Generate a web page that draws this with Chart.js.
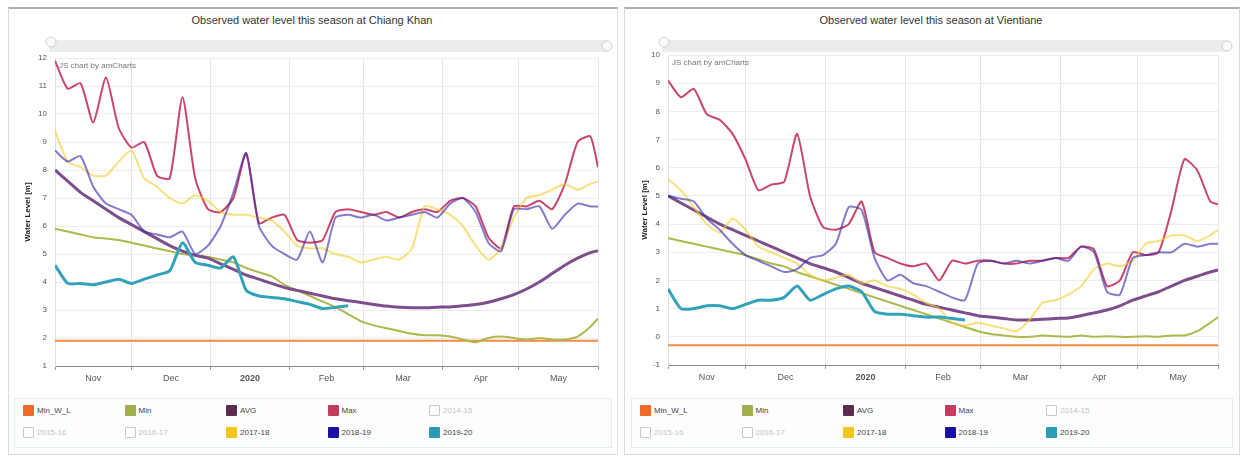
<!DOCTYPE html>
<html>
<head>
<meta charset="utf-8">
<title>Observed water level this season</title>
<script src="https://cdn.jsdelivr.net/npm/chart.js@4.4.1/dist/chart.umd.min.js"></script>
<style>
  body { margin: 0; background: #fff; font-family: "Liberation Sans", Arial, sans-serif; }
  .panel { position: absolute; top: 7px; height: 445px; border: 1px solid #d3dde2; border-top: 2px solid #aab0b5; background: #fff; }
  .title { position: absolute; top: 14px; text-align: center; font-size: 11px; color: #333; }
  canvas { position: absolute; }
  .legend { position: absolute; top: 398px; height: 48px; border: 1px solid #e6ecef; background: #fcfdfd; }
  .item { position: absolute; font-size: 8px; color: #444; line-height: 12px; white-space: nowrap; }
  .item span { display: inline-block; width: 11px; height: 11px; vertical-align: middle; margin-right: 3px; border-radius: 1px; }
  .item.off { color: #c4c4c4; }
  .item.off span { width: 9px; height: 9px; border: 1px solid #c8c8c8; background: #fff; }
</style>
</head>
<body>
<div class="panel" style="left:8px;width:608px"></div>
<div class="panel" style="left:624px;width:614px"></div>
<div class="title" style="left:8px;width:608px">Observed water level this season at Chiang Khan</div>
<div class="title" style="left:624px;width:614px">Observed water level this season at Vientiane</div>
<canvas id="chiangKhanChart" style="left:8px;top:30px" width="609" height="360"></canvas>
<canvas id="vientianeChart" style="left:625px;top:30px" width="612" height="360"></canvas>
<div class="legend" id="chiangKhanLegend" style="left:14px;width:596px"></div>
<div class="legend" id="vientianeLegend" style="left:631px;width:600px"></div>

<script>
// Day of season, counted from 1 Nov 2019
const days = [0, 5, 10, 15, 20, 25, 30, 35, 40, 45, 50, 55, 60, 65, 70, 75, 80, 85, 90, 95, 100,
  105, 110, 115, 120, 125, 130, 135, 140, 145, 150, 155, 160, 165, 170, 175, 180, 185, 190, 195,
  200, 205, 210, 213];
const wlDays = [0, 213];

// Month grid (first of month) and month labels (mid month)
const monthStarts = [0, 30, 61, 92, 121, 152, 182, 213];
const monthMids = [15, 45.5, 76.5, 106.5, 136.5, 167, 197.5];
const monthLabels = ['Nov', 'Dec', '2020', 'Feb', 'Mar', 'Apr', 'May'];

// Chiang Khan, water level [m]
const ckMinWl = [1.9, 1.9];
const ckMin = [5.9, 5.8, 5.7, 5.6, 5.55, 5.5, 5.4, 5.3, 5.2, 5.1, 5.0, 4.95, 4.9, 4.8, 4.7, 4.5,
  4.35, 4.2, 3.9, 3.7, 3.5, 3.3, 3.1, 2.85, 2.6, 2.45, 2.35, 2.25, 2.15, 2.1, 2.1, 2.05, 1.95,
  1.85, 2.0, 2.05, 2.0, 1.95, 2.0, 1.95, 1.95, 2.05, 2.4, 2.7];
const ckAvg = [8.0, 7.6, 7.2, 6.9, 6.6, 6.3, 6.05, 5.8, 5.55, 5.3, 5.1, 4.95, 4.85, 4.65, 4.45,
  4.25, 4.1, 3.95, 3.8, 3.7, 3.6, 3.5, 3.4, 3.33, 3.27, 3.2, 3.14, 3.1, 3.08, 3.08, 3.1, 3.11,
  3.15, 3.2, 3.28, 3.4, 3.55, 3.75, 4.0, 4.3, 4.6, 4.85, 5.05, 5.12];
const ckMax = [11.9, 10.9, 11.1, 9.7, 11.3, 9.5, 8.8, 9.0, 7.8, 7.7, 10.6, 7.7, 6.6, 6.5, 7.0,
  8.6, 6.1, 6.3, 6.4, 5.5, 5.4, 5.5, 6.5, 6.6, 6.5, 6.4, 6.5, 6.3, 6.5, 6.6, 6.5, 6.9, 7.0, 6.7,
  5.6, 5.2, 6.7, 6.7, 6.9, 6.6, 7.5, 9.0, 9.2, 8.1];
const ck2017 = [9.4, 8.3, 8.1, 7.8, 7.8, 8.3, 8.7, 7.7, 7.4, 7.0, 6.8, 7.1, 6.9, 6.5, 6.4, 6.4,
  6.3, 6.2, 5.8, 5.3, 5.2, 5.2, 5.0, 4.9, 4.7, 4.8, 4.9, 4.8, 5.2, 6.7, 6.6, 6.4, 6.0, 5.3, 4.8,
  5.2, 6.3, 7.0, 7.1, 7.3, 7.5, 7.3, 7.5, 7.6];
const ck2018 = [8.7, 8.3, 8.5, 7.4, 6.8, 6.6, 6.4, 5.8, 5.7, 5.6, 5.8, 5.0, 5.3, 6.0, 7.2, 8.6,
  6.0, 5.3, 5.0, 4.8, 5.8, 4.7, 6.3, 6.4, 6.3, 6.4, 6.2, 6.3, 6.4, 6.5, 6.3, 6.8, 7.0, 6.5, 5.4,
  5.1, 6.6, 6.6, 6.7, 5.9, 6.4, 6.8, 6.7, 6.7];
const ck2019 = [4.6, 3.95, 3.95, 3.9, 4.0, 4.1, 3.95, 4.1, 4.25, 4.4, 5.4, 4.7, 4.6, 4.5, 4.9,
  3.7, 3.5, 3.45, 3.4, 3.3, 3.2, 3.05, 3.1, 3.15];

// Vientiane, water level [m]
const vtMinWl = [-0.3, -0.3];
const vtMin = [3.5, 3.4, 3.3, 3.2, 3.1, 3.0, 2.9, 2.75, 2.6, 2.5, 2.3, 2.15, 2.0, 1.85, 1.7, 1.55,
  1.4, 1.25, 1.1, 0.95, 0.8, 0.65, 0.5, 0.35, 0.2, 0.1, 0.05, 0.0, 0.0, 0.05, 0.02, 0.0, 0.05,
  0.0, 0.02, 0.0, 0.0, 0.02, 0.0, 0.05, 0.05, 0.2, 0.5, 0.7];
const vtAvg = [5.0, 4.75, 4.5, 4.25, 4.0, 3.8, 3.6, 3.4, 3.2, 3.0, 2.8, 2.6, 2.45, 2.3, 2.1, 1.9,
  1.75, 1.6, 1.45, 1.3, 1.15, 1.05, 0.95, 0.85, 0.75, 0.7, 0.65, 0.6, 0.6, 0.62, 0.65, 0.67,
  0.75, 0.85, 0.95, 1.1, 1.3, 1.45, 1.6, 1.8, 2.0, 2.15, 2.3, 2.37];
const vtMax = [9.1, 8.5, 8.8, 7.9, 7.7, 7.2, 6.3, 5.2, 5.4, 5.5, 7.2, 5.0, 3.9, 3.8, 4.0, 4.8,
  3.0, 2.8, 2.6, 2.5, 2.6, 2.0, 2.7, 2.6, 2.7, 2.7, 2.6, 2.6, 2.7, 2.7, 2.8, 2.8, 3.2, 3.1, 1.8,
  2.0, 3.0, 2.9, 3.0, 4.5, 6.3, 5.9, 4.8, 4.7];
const vt2017 = [5.6, 5.2, 4.6, 4.0, 3.7, 4.2, 3.8, 3.2, 3.0, 2.8, 2.6, 2.2, 2.0, 2.1, 2.2, 1.9,
  2.0, 1.8, 1.7, 1.5, 1.2, 1.0, 0.5, 0.4, 0.5, 0.4, 0.3, 0.2, 0.6, 1.2, 1.3, 1.5, 1.8, 2.4, 2.6,
  2.5, 2.7, 3.3, 3.4, 3.6, 3.6, 3.4, 3.6, 3.8];
const vt2018 = [5.0, 4.9, 4.8, 4.2, 3.8, 3.3, 2.9, 2.7, 2.5, 2.3, 2.4, 2.8, 2.9, 3.3, 4.6, 4.5,
  2.8, 2.0, 2.2, 1.9, 1.8, 1.6, 1.4, 1.3, 2.6, 2.7, 2.6, 2.7, 2.6, 2.7, 2.8, 2.7, 3.2, 3.0, 1.6,
  1.5, 2.8, 2.9, 3.0, 3.0, 3.3, 3.2, 3.3, 3.3];
const vt2019 = [1.7, 1.0, 1.0, 1.1, 1.1, 1.0, 1.15, 1.3, 1.3, 1.4, 1.8, 1.3, 1.5, 1.7, 1.8, 1.6,
  0.9, 0.8, 0.8, 0.75, 0.7, 0.7, 0.65, 0.6];

// Series names, line colours and legend swatch colours
const seriesNames = ['Min_W_L', 'Min', 'AVG', 'Max', '2014-15', '2015-16', '2016-17', '2017-18', '2018-19', '2019-20'];
const lineColors = ['#f28a45', '#aeb84c', '#7d4d8c', '#c7466a', null, null, null,
  'rgba(244,205,45,0.62)', 'rgba(60,40,170,0.62)', '#32a2ba'];
const swatchColors = ['#ee6a2c', '#a3ad4a', '#5a2c50', '#c43c5e', null, null, null, '#f2c71c', '#1c0fa3', '#2b9cb6'];
const lineWidths = [2, 2, 3, 2, 2, 2, 2, 2, 2, 3];

function toPoints(xs, ys) {
  return ys.map((v, i) => ({ x: xs[i], y: v }));
}

// Scrollbar strip and credit text above the plot
const chromePlugin = {
  id: 'chrome',
  afterDraw(chart) {
    const ctx = chart.ctx;
    const area = chart.chartArea;
    ctx.save();
    ctx.fillStyle = '#ececec';
    ctx.fillRect(area.left - 6, 10, area.right - area.left + 16, 12);
    ctx.strokeStyle = '#d0d0d0';
    ctx.fillStyle = '#fafafa';
    ctx.beginPath();
    ctx.arc(area.left - 4, 12, 5, 0, Math.PI * 2);
    ctx.fill();
    ctx.stroke();
    ctx.beginPath();
    ctx.arc(area.right + 9, 16, 5, 0, Math.PI * 2);
    ctx.fill();
    ctx.stroke();
    ctx.fillStyle = '#777';
    ctx.font = '8px "Liberation Sans", Arial, sans-serif';
    ctx.fillText('JS chart by amCharts', area.left + 4, area.top + 10);
    ctx.restore();
  }
};

function makeChart(canvasId, legendId, opts) {
  const dataSets = [
    toPoints(wlDays, opts.minWl), toPoints(days, opts.min), toPoints(days, opts.avg),
    toPoints(days, opts.max), [], [], [], toPoints(days, opts.y2017),
    toPoints(days, opts.y2018), toPoints(days, opts.y2019)
  ];
  const datasets = seriesNames.map((name, i) => ({
    label: name,
    data: dataSets[i],
    hidden: lineColors[i] === null,
    borderColor: lineColors[i] || '#ccc',
    backgroundColor: swatchColors[i] || '#fff',
    borderWidth: lineWidths[i],
    pointRadius: 0,
    tension: 0.2,
    order: 10 - i
  }));

  const chart = new Chart(document.getElementById(canvasId), {
    type: 'line',
    data: { datasets: datasets },
    options: {
      responsive: false,
      animation: false,
      layout: { padding: { left: 15, right: 19, top: opts.top } },
      plugins: { legend: { display: false }, tooltip: { enabled: false } },
      scales: {
        x: {
          type: 'linear',
          min: 0,
          max: 213,
          afterBuildTicks: scale => {
            scale.ticks = monthStarts.concat(monthMids).map(v => ({ value: v }));
          },
          afterFit: scale => { scale.height = opts.xHeight; },
          ticks: {
            autoSkip: false,
            maxRotation: 0,
            padding: 3,
            color: '#555',
            font: ctx => ({ size: 9, weight: monthMids.indexOf(ctx.tick && ctx.tick.value) === 2 ? 'bold' : 'normal' }),
            callback: value => {
              const k = monthMids.indexOf(value);
              return k >= 0 ? monthLabels[k] : '';
            }
          },
          grid: {
            color: ctx => (ctx.tick && monthStarts.indexOf(ctx.tick.value) >= 0) ? '#e6e6e6' : 'rgba(0,0,0,0)',
            tickLength: 4,
            tickColor: ctx => (ctx.tick && monthStarts.indexOf(ctx.tick.value) >= 0) ? '#999' : 'rgba(0,0,0,0)'
          },
          border: { color: '#888' }
        },
        y: {
          min: opts.yMin,
          max: opts.yMax,
          afterFit: scale => { scale.width = opts.yWidth; },
          ticks: { stepSize: 1, padding: 8, color: '#555', font: { size: 8 } },
          grid: { color: '#ededed', tickLength: 0 },
          border: { color: '#e0e0e0' },
          title: {
            display: true,
            text: 'Water Level [m]',
            color: '#222',
            font: { size: 8, weight: 'bold' },
            padding: 0
          }
        }
      }
    },
    plugins: [chromePlugin]
  });

  // Legend in two rows of five
  const legend = document.getElementById(legendId);
  chart.data.datasets.forEach((ds, i) => {
    const item = document.createElement('div');
    item.className = 'item' + (ds.hidden ? ' off' : '');
    item.style.left = (8 + (i % 5) * 101.5) + 'px';
    item.style.top = (i < 5 ? 6 : 28) + 'px';
    const box = document.createElement('span');
    if (!ds.hidden) box.style.background = ds.backgroundColor;
    item.appendChild(box);
    item.appendChild(document.createTextNode(ds.label));
    legend.appendChild(item);
  });
  return chart;
}

makeChart('chiangKhanChart', 'chiangKhanLegend', {
  minWl: ckMinWl, min: ckMin, avg: ckAvg, max: ckMax,
  y2017: ck2017, y2018: ck2018, y2019: ck2019,
  yMin: 1, yMax: 12, top: 28, xHeight: 24, yWidth: 32
});

makeChart('vientianeChart', 'vientianeLegend', {
  minWl: vtMinWl, min: vtMin, avg: vtAvg, max: vtMax,
  y2017: vt2017, y2018: vt2018, y2019: vt2019,
  yMin: -1, yMax: 10, top: 25, xHeight: 25, yWidth: 28
});
</script>
</body>
</html>
